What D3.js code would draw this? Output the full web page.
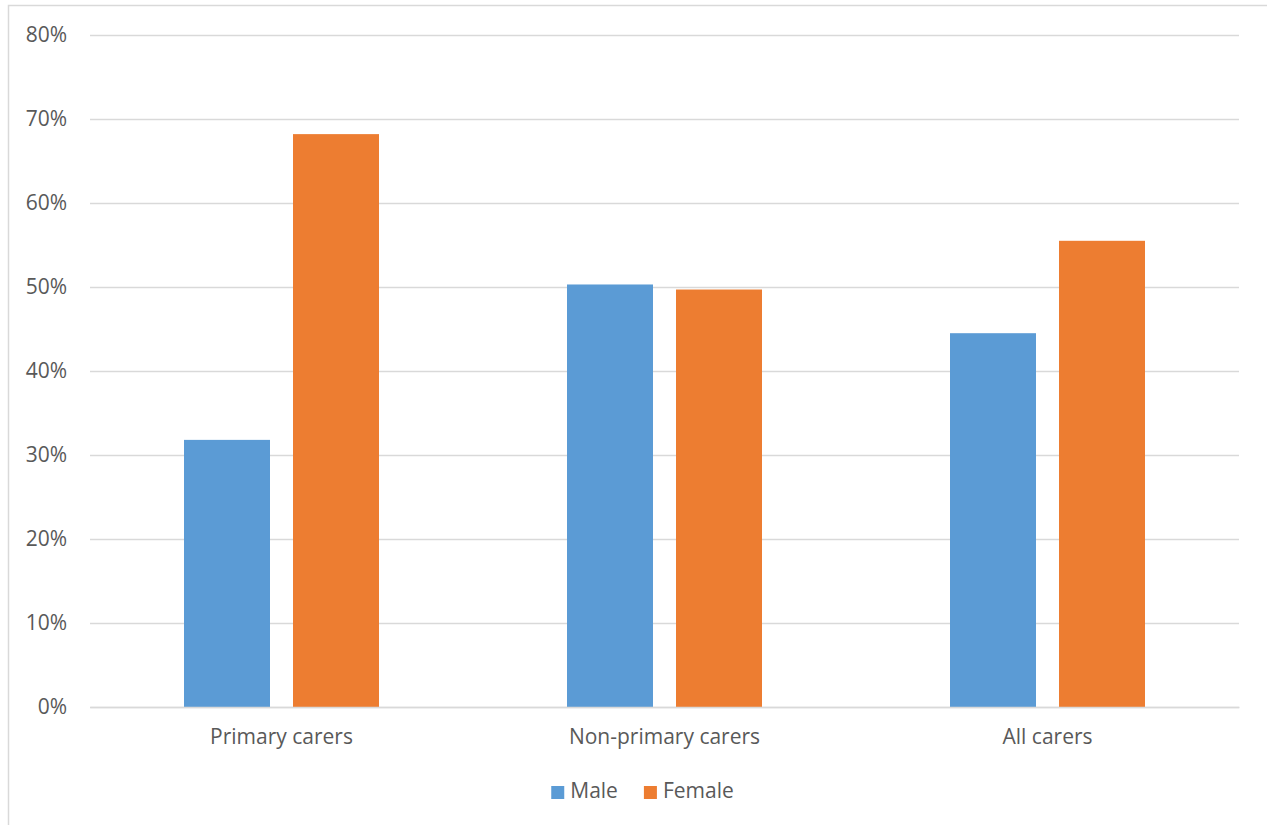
<!DOCTYPE html>
<html>
<head>
<meta charset="utf-8">
<script src="https://cdn.jsdelivr.net/npm/d3@7"></script>
<style>
  html, body { margin: 0; padding: 0; background: #fff; }
  svg { display: block; }
  text { font-family: "Open Sans", sans-serif; fill: #595959; }
</style>
</head>
<body>
<svg id="chart" width="1267" height="825"></svg>
<script>
// Share of carers by sex, per carer type
const categories = ["Primary carers", "Non-primary carers", "All carers"];
const seriesNames = ["Male", "Female"];
const maleValues = [31.8, 50.3, 44.5];
const femaleValues = [68.2, 49.7, 55.5];
const yTicks = [0, 10, 20, 30, 40, 50, 60, 70, 80];
const colors = ["#5b9bd5", "#ed7d31"];

const seriesValues = [maleValues, femaleValues];
const rows = categories.map((c, i) => ({
  category: c,
  values: seriesNames.map((s, j) => ({ series: s, value: seriesValues[j][i], color: colors[j] }))
}));

const svg = d3.select("#chart");
const W = 1267, H = 825;
const plot = { left: 90, right: 1239, top: 35, bottom: 707 };
const fontSize = 21;

// Chart-area frame (runs past the right and bottom edges)
svg.append("rect")
  .attr("x", 8.5).attr("y", 5.5)
  .attr("width", W + 20).attr("height", H + 20)
  .attr("fill", "#fff")
  .attr("stroke", "#d9d9d9").attr("stroke-width", 1.5);

const y = d3.scaleLinear().domain([0, 80]).range([plot.bottom, plot.top]);
const x0 = d3.scaleBand().domain(categories).range([plot.left, plot.right]).padding(0);
const groupWidth = x0.bandwidth() * 195 / 383;
const x1 = d3.scaleBand().domain(seriesNames)
  .range([0, groupWidth]).paddingInner(23 / 109).paddingOuter(0);

// Gridlines
const yAxis = d3.axisLeft(y).tickValues(yTicks).tickFormat(d => d + "%")
  .tickSize(-(plot.right - plot.left));
const gy = svg.append("g").attr("transform", `translate(${plot.left},0)`).call(yAxis);
gy.select(".domain").remove();
gy.selectAll(".tick line").attr("stroke", "#d9d9d9").attr("stroke-width", 1.5);
gy.selectAll(".tick text")
  .attr("font-size", fontSize).attr("font-family", "Open Sans, sans-serif")
  .attr("fill", "#595959").attr("x", 67 - plot.left);

// Bars
const groups = svg.append("g").selectAll("g")
  .data(rows).join("g")
  .attr("transform", d => `translate(${x0(d.category) + (x0.bandwidth() - groupWidth) / 2},0)`);
groups.selectAll("rect")
  .data(d => d.values).join("rect")
  .attr("x", d => x1(d.series))
  .attr("width", x1.bandwidth())
  .attr("y", d => y(d.value))
  .attr("height", d => y(0) - y(d.value))
  .attr("fill", d => d.color);

// Category axis
const xAxis = d3.axisBottom(x0).tickSize(0).tickPadding(22);
const gx = svg.append("g").attr("transform", `translate(0,${plot.bottom})`).call(xAxis);
gx.select(".domain").attr("stroke", "#d9d9d9").attr("stroke-width", 1.5);
gx.selectAll(".tick text")
  .attr("font-size", fontSize).attr("font-family", "Open Sans, sans-serif")
  .attr("fill", "#595959");

// Legend
const legend = svg.append("g");
const items = legend.selectAll("g").data(seriesNames).join("g");
items.append("rect")
  .attr("width", 13).attr("height", 13)
  .attr("y", -12)
  .attr("fill", (d, i) => colors[i]);
items.append("text")
  .attr("x", 19).attr("y", 0)
  .attr("font-size", fontSize)
  .text(d => d);
let offset = 0;
items.each(function () {
  const w = this.getBBox().width;
  d3.select(this).attr("transform", `translate(${offset},0)`);
  offset += w + 26;
});
const totalW = offset - 26;
legend.attr("transform", `translate(${642.5 - totalW / 2},798)`);
</script>
</body>
</html>
